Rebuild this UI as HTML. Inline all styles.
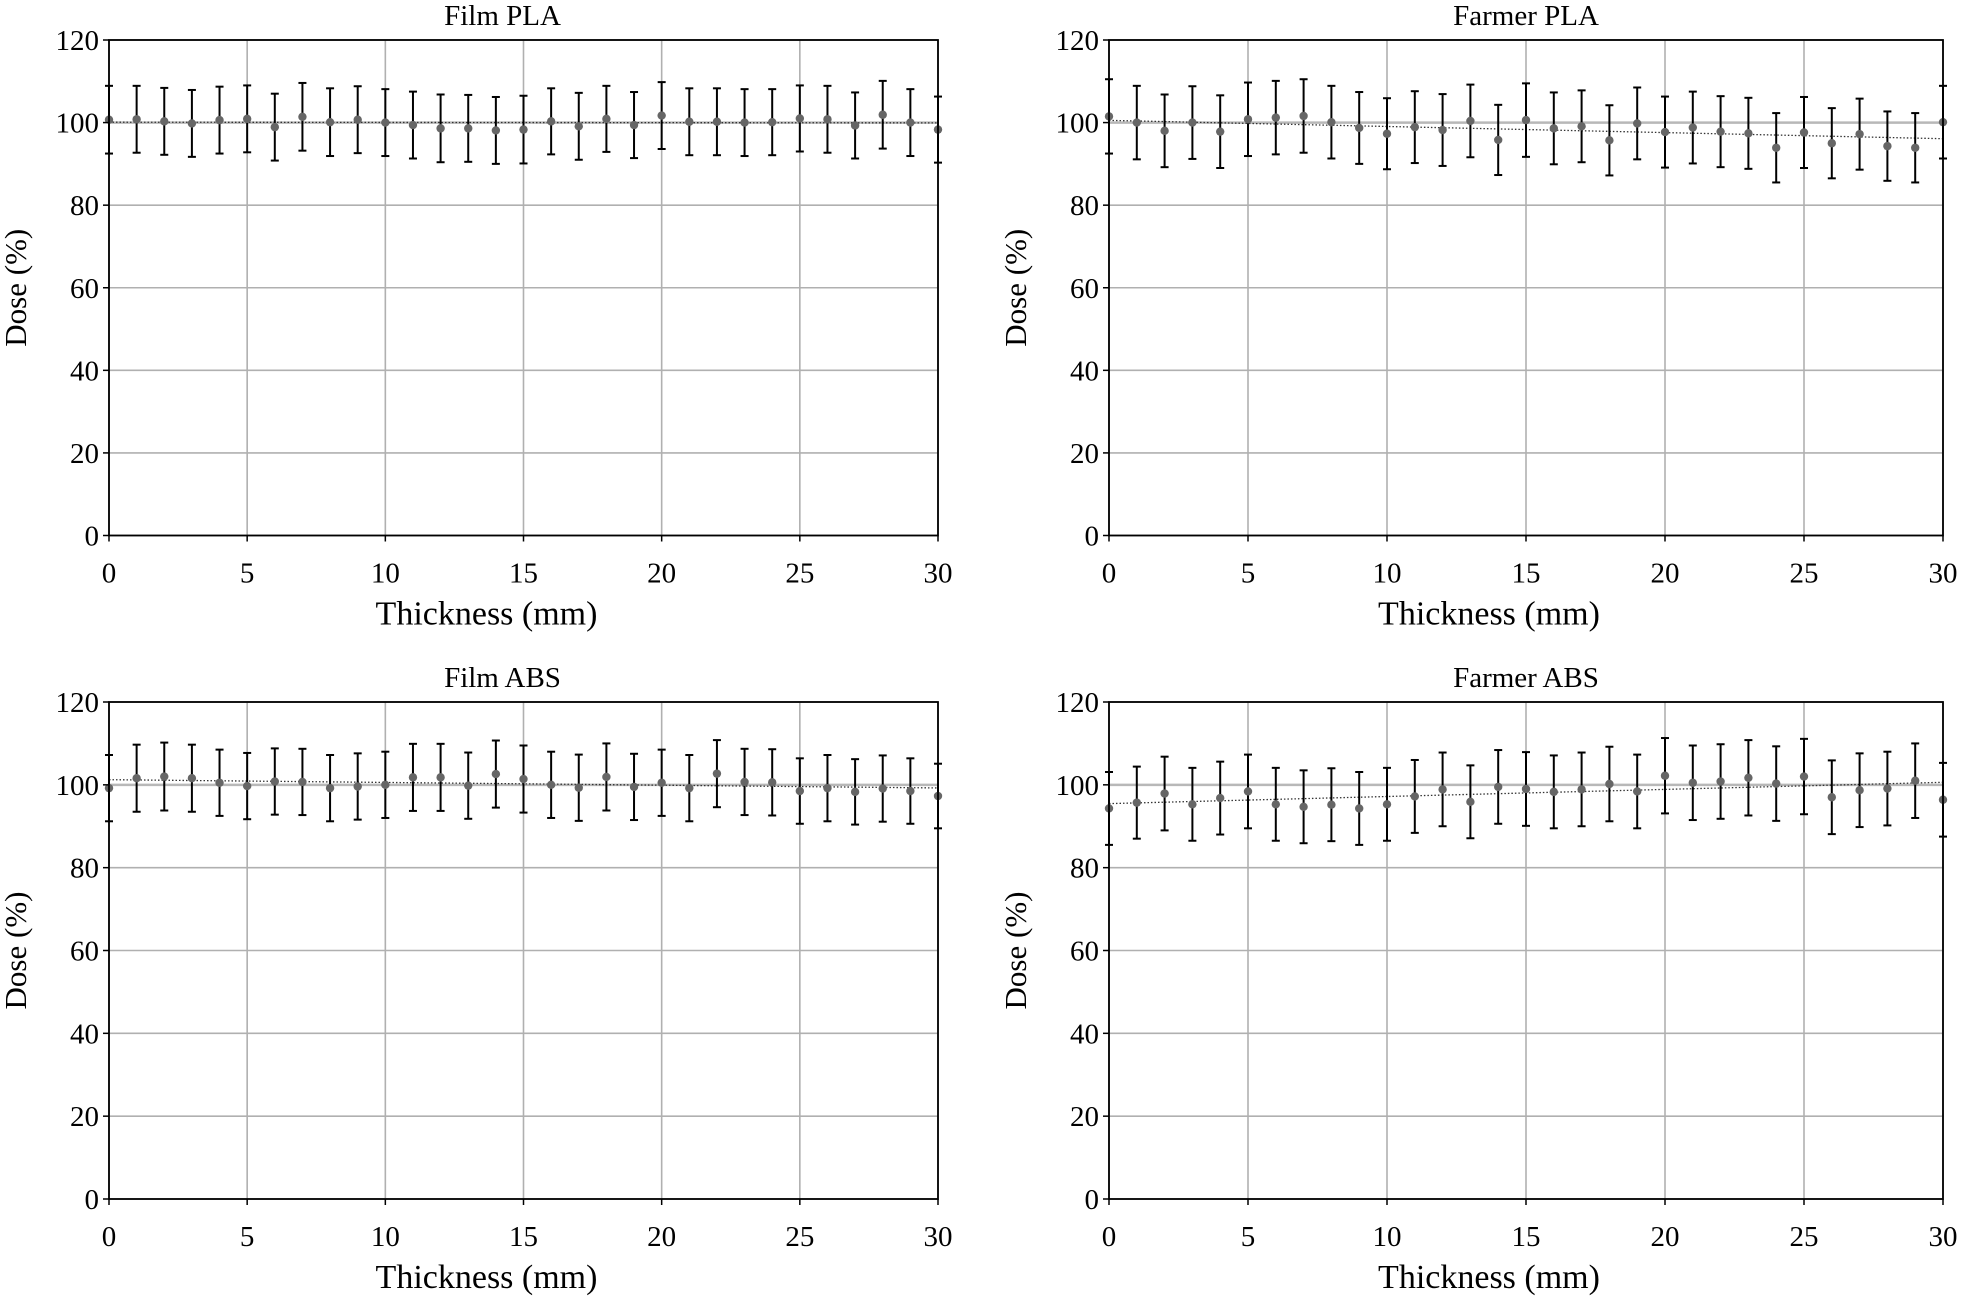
<!DOCTYPE html>
<html><head><meta charset="utf-8">
<style>
html,body{margin:0;padding:0;background:#fff;}
svg{display:block;}
text{font-family:"Liberation Serif",serif;fill:#000;}
</style></head>
<body>
<svg id="fig" width="1962" height="1296" viewBox="0 0 1962 1296" xmlns="http://www.w3.org/2000/svg"></svg>
<script>
const thickness = [0,1,2,3,4,5,6,7,8,9,10,11,12,13,14,15,16,17,18,19,20,21,22,23,24,25,26,27,28,29,30];
const xTicks = [0,5,10,15,20,25,30];
const yTicks = [0,20,40,60,80,100,120];
const filmPLA = [100.7,100.8,100.3,99.8,100.6,100.9,98.9,101.4,100.1,100.7,100,99.4,98.6,98.6,98.1,98.3,100.3,99.1,100.9,99.4,101.7,100.2,100.2,100,100.1,101,100.8,99.3,101.9,100,98.3];
const filmPLAErr = [8.2,8.1,8.1,8.1,8.1,8.1,8.1,8.2,8.2,8.1,8.1,8.1,8.2,8.1,8.1,8.2,8,8.1,8,8,8.1,8.1,8.1,8.1,8,8,8.1,8,8.2,8.1,8];
const farmerPLA = [101.5,100,98,100,97.8,100.8,101.2,101.6,100.1,98.7,97.3,98.9,98.2,100.4,95.8,100.6,98.6,99.1,95.7,99.8,97.7,98.8,97.8,97.4,93.9,97.6,95,97.2,94.3,93.9,100.1];
const farmerPLAErr = [9,8.9,8.8,8.8,8.8,8.9,8.9,8.9,8.8,8.7,8.6,8.7,8.7,8.8,8.5,8.9,8.7,8.7,8.5,8.7,8.6,8.7,8.6,8.6,8.4,8.6,8.5,8.6,8.4,8.4,8.8];
const filmABS = [99.2,101.6,102,101.6,100.5,99.7,100.8,100.7,99.2,99.6,100,101.8,101.8,99.8,102.6,101.4,100,99.3,101.9,99.5,100.5,99.2,102.7,100.7,100.6,98.5,99.2,98.3,99.1,98.5,97.3];
const filmABSErr = [8,8.1,8.2,8.1,8,8,8,8,8,8,8,8.1,8.1,8,8.1,8.1,8,8,8.1,8,8,8,8.1,8,8,7.9,8,7.9,8,7.9,7.8];
const farmerABS = [94.3,95.7,97.9,95.3,96.8,98.4,95.3,94.7,95.2,94.3,95.3,97.2,98.9,95.9,99.5,99,98.3,98.9,100.2,98.4,102.2,100.5,100.8,101.7,100.3,102,97,98.7,99.1,101,96.4];
const farmerABSErr = [8.8,8.7,8.9,8.8,8.8,8.9,8.8,8.8,8.8,8.8,8.8,8.8,8.9,8.8,8.9,8.9,8.8,8.9,9,8.9,9.1,9,9,9.1,9,9.1,8.9,8.9,8.9,9,8.9];

const panels = [
  {name:'film-pla', title:'Film PLA', vals:filmPLA, errs:filmPLAErr, x0:109, x1:938, y0:535.5, y1:40, tdx:-21},
  {name:'farmer-pla', title:'Farmer PLA', vals:farmerPLA, errs:farmerPLAErr, x0:1109, x1:1943, y0:535.5, y1:40, tdx:0},
  {name:'film-abs', title:'Film ABS', vals:filmABS, errs:filmABSErr, x0:109, x1:938, y0:1199, y1:702, tdx:-21},
  {name:'farmer-abs', title:'Farmer ABS', vals:farmerABS, errs:farmerABSErr, x0:1109, x1:1943, y0:1199, y1:702, tdx:0}
];
const NS='http://www.w3.org/2000/svg';
const svg=document.getElementById('fig');
function mk(tag, attrs, parent){const e=document.createElementNS(NS,tag);for(const k in attrs)e.setAttribute(k,attrs[k]);(parent||svg).appendChild(e);return e;}

panels.forEach(p=>{
  const g=mk('g',{});
  
  
  const sx=v=>p.x0+(v-0)/(30-0)*(p.x1-p.x0);
  const sy=v=>p.y0-(v-0)/(120-0)*(p.y0-p.y1);
  xTicks.forEach(t=>{const l=mk('line',{x1:sx(t),x2:sx(t),y1:p.y1,y2:p.y0,stroke:'#b0b0b0','stroke-width':1.6},g);
    });
  yTicks.forEach(t=>{const l=mk('line',{x1:p.x0,x2:p.x1,y1:sy(t),y2:sy(t),stroke:'#b0b0b0','stroke-width':1.6},g);
    });
  const ref=mk('line',{x1:p.x0,x2:p.x1,y1:sy(100),y2:sy(100),stroke:'#b8b8b8','stroke-width':2.5},g);
  
  const n=thickness.length;let mx=0,my=0;thickness.forEach((x,i)=>{mx+=x;my+=p.vals[i];});mx/=n;my/=n;
  let sxy=0,sxx=0;thickness.forEach((x,i)=>{sxy+=(x-mx)*(p.vals[i]-my);sxx+=(x-mx)*(x-mx);});
  const b=sxy/sxx,a=my-b*mx;
  const fit=mk('line',{x1:sx(0),x2:sx(30),y1:sy(a),y2:sy(a+b*30),stroke:'#333','stroke-width':1.3,'stroke-dasharray':'1.5,2'},g);
  
  thickness.forEach((x,i)=>{
    const v=p.vals[i],e=p.errs[i],cx=sx(x);
    const eb=mk('g',{stroke:'#000','stroke-width':2},g);
    
    mk('line',{x1:cx,x2:cx,y1:sy(v+e),y2:sy(v-e)},eb);
    mk('line',{x1:cx-4,x2:cx+4,y1:sy(v+e),y2:sy(v+e)},eb);
    mk('line',{x1:cx-4,x2:cx+4,y1:sy(v-e),y2:sy(v-e)},eb);
    const c=mk('circle',{cx:cx,cy:sy(v),r:4.2,fill:'#666'},g);
    
  });
  const fr=mk('rect',{x:p.x0,y:p.y1,width:p.x1-p.x0,height:p.y0-p.y1,fill:'none',stroke:'#000','stroke-width':1.8},g);
  
  xTicks.forEach(t=>{mk('line',{x1:sx(t),x2:sx(t),y1:p.y0,y2:p.y0+6,stroke:'#000','stroke-width':1.5},g);
    const tx=mk('text',{x:sx(t),y:p.y0+47,'text-anchor':'middle','font-size':29},g);tx.textContent=t;
    });
  yTicks.forEach(t=>{mk('line',{x1:p.x0-6,x2:p.x0,y1:sy(t),y2:sy(t),stroke:'#000','stroke-width':1.5},g);
    const tx=mk('text',{x:p.x0-10,y:sy(t)+10,'text-anchor':'end','font-size':29},g);tx.textContent=t;
    });
  const ti=mk('text',{x:(p.x0+p.x1)/2+p.tdx,y:p.y1-15,'text-anchor':'middle','font-size':29},g);ti.textContent=p.title;
  
  const xl=mk('text',{x:(p.x0+p.x1)/2-37,y:p.y0+89,'text-anchor':'middle','font-size':34},g);xl.textContent='Thickness (mm)';
  
  const lx=p.x0-83,ly=(p.y0+p.y1)/2;
  const yl=mk('text',{x:lx,y:ly,'text-anchor':'middle','font-size':31,transform:`rotate(-90 ${lx} ${ly})`},g);yl.textContent='Dose (%)';
  
});
</script>
</body></html>
